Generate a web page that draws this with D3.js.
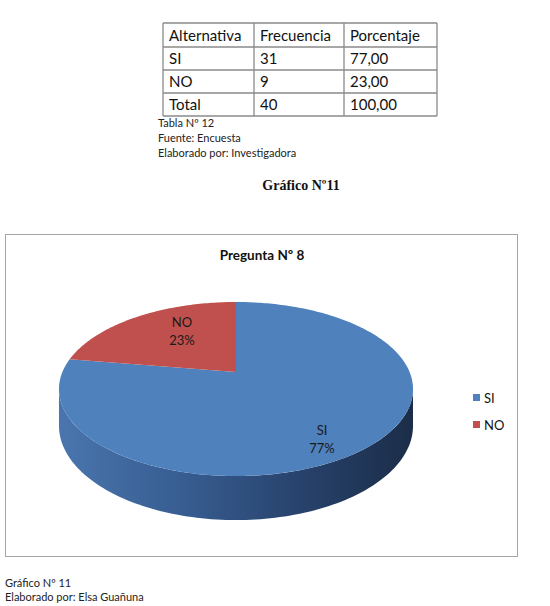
<!DOCTYPE html>
<html><head><meta charset="utf-8">
<script src="https://cdn.jsdelivr.net/npm/d3@7"></script>
<style>body{margin:0;background:#fff;} svg{display:block;}</style>
</head><body>
<svg id="c" width="550" height="606"></svg>
<script>
const categories = ["SI", "NO"];
const frecuencia = [31, 9];
const porcentaje = ["77,00", "23,00"];
const pctLabels = [77, 23];
const headers = ["Alternativa", "Frecuencia", "Porcentaje"];
const totalRow = ["Total", "40", "100,00"];
const colors = ["#4F81BD", "#C0504D"];

const svg = d3.select("#c");
const font = "Lato, 'Open Sans', sans-serif";

// ---- Table ----
const colX = [163, 254, 344, 437];
const rowY = [23, 47, 70, 93, 116];
const rows = [headers].concat(categories.map((c, i) => [c, String(frecuencia[i]), porcentaje[i]])).concat([totalRow]);
const tg = svg.append("g");
rows.forEach((r, ri) => {
  r.forEach((cell, ci) => {
    tg.append("text").attr("x", colX[ci] + 6).attr("y", (rowY[ri] + rowY[ri + 1]) / 2 + 5.5)
      .attr("font-family", font).attr("font-size", 15).attr("fill", "#111").text(cell);
  });
});
rowY.forEach(y => tg.append("line").attr("x1", colX[0]).attr("x2", colX[3]).attr("y1", y).attr("y2", y).attr("stroke", "#8a8a8a").attr("stroke-width", 1.3));
colX.forEach(x => tg.append("line").attr("x1", x).attr("x2", x).attr("y1", rowY[0]).attr("y2", rowY[4]).attr("stroke", "#8a8a8a").attr("stroke-width", 1.3));
[["Tabla Nº 12", 127], ["Fuente: Encuesta", 142], ["Elaborado por: Investigadora", 157]].forEach(([t, y]) =>
  svg.append("text").attr("x", 158).attr("y", y).attr("font-family", font).attr("font-size", 11).attr("fill", "#222").text(t));

svg.append("text").attr("x", 301).attr("y", 190).attr("text-anchor", "middle")
  .attr("font-family", "'Liberation Serif', serif").attr("font-weight", "bold").attr("font-size", 14).attr("fill", "#111").text("Gráfico Nº11");

// ---- Chart box ----
svg.append("rect").attr("x", 5.5).attr("y", 234.5).attr("width", 512).attr("height", 322)
  .attr("fill", "#fff").attr("stroke", "#a6a6a6").attr("stroke-width", 1);
svg.append("text").attr("x", 262).attr("y", 260).attr("text-anchor", "middle")
  .attr("font-family", font).attr("font-weight", "bold").attr("font-size", 13.5).attr("fill", "#111").text("Pregunta Nº 8");

// ---- 3D pie ----
const cx = 236, vy = 372, k = 0.1955, sx = 173.6, sy = 83.7, h0 = 35.4;
function proj(theta, depth) {
  const x = Math.sin(theta), z = Math.cos(theta);
  const f = 1 / (1 + k * z);
  return [cx + sx * x * f, vy - sy * z * f + (depth ? h0 * f : 0)];
}
const pie = d3.pie().sort(null).startAngle(0).endAngle(2 * Math.PI);
const arcs = pie(frecuencia);

const defs = svg.append("defs");
const grad = defs.append("linearGradient").attr("id", "side").attr("x1", "0").attr("x2", "1").attr("y1", "0").attr("y2", "0");
[[0, "#4a75ae"], [0.35, "#375d91"], [0.7, "#27416a"], [1, "#1b2d48"]].forEach(([o, c]) =>
  grad.append("stop").attr("offset", o).attr("stop-color", c));

// side (front visible part)
const t1 = Math.acos(-k), t2 = 2 * Math.PI - Math.acos(-k);
const N = 120;
const sideP = d3.path();
for (let i = 0; i <= N; i++) {
  const p = proj(t1 + (t2 - t1) * i / N, false);
  i === 0 ? sideP.moveTo(p[0], p[1]) : sideP.lineTo(p[0], p[1]);
}
for (let i = N; i >= 0; i--) {
  const p = proj(t1 + (t2 - t1) * i / N, true);
  sideP.lineTo(p[0], p[1]);
}
sideP.closePath();
svg.append("path").attr("d", sideP.toString()).attr("fill", "url(#side)");

// top faces
arcs.forEach((a, i) => {
  const p = d3.path();
  p.moveTo(cx, vy);
  const n = Math.max(8, Math.round((a.endAngle - a.startAngle) * 60));
  for (let j = 0; j <= n; j++) {
    const q = proj(a.startAngle + (a.endAngle - a.startAngle) * j / n, false);
    p.lineTo(q[0], q[1]);
  }
  p.closePath();
  svg.append("path").attr("d", p.toString()).attr("fill", colors[i]);
});

// labels
const labelPos = [[322, 430], [182, 322]];
arcs.forEach((a, i) => {
  const t = svg.append("text").attr("text-anchor", "middle").attr("font-family", font).attr("font-size", 13).attr("fill", "#1a1a1a");
  t.append("tspan").attr("x", labelPos[i][0]).attr("y", labelPos[i][1] + 5).text(categories[i]);
  t.append("tspan").attr("x", labelPos[i][0]).attr("y", labelPos[i][1] + 23).text(pctLabels[i] + "%");
});

// legend
categories.forEach((c, i) => {
  const y = 398 + i * 27;
  svg.append("rect").attr("x", 473).attr("y", y - 4).attr("width", 7).attr("height", 7).attr("fill", colors[i]);
  svg.append("text").attr("x", 484).attr("y", y + 4.5).attr("font-family", font).attr("font-size", 13).attr("fill", "#111").text(c);
});

// footer
[["Gráfico Nº 11", 587], ["Elaborado por: Elsa Guañuna", 601]].forEach(([t, y]) =>
  svg.append("text").attr("x", 5).attr("y", y).attr("font-family", font).attr("font-size", 11).attr("fill", "#222").text(t));
</script>
</body></html>
